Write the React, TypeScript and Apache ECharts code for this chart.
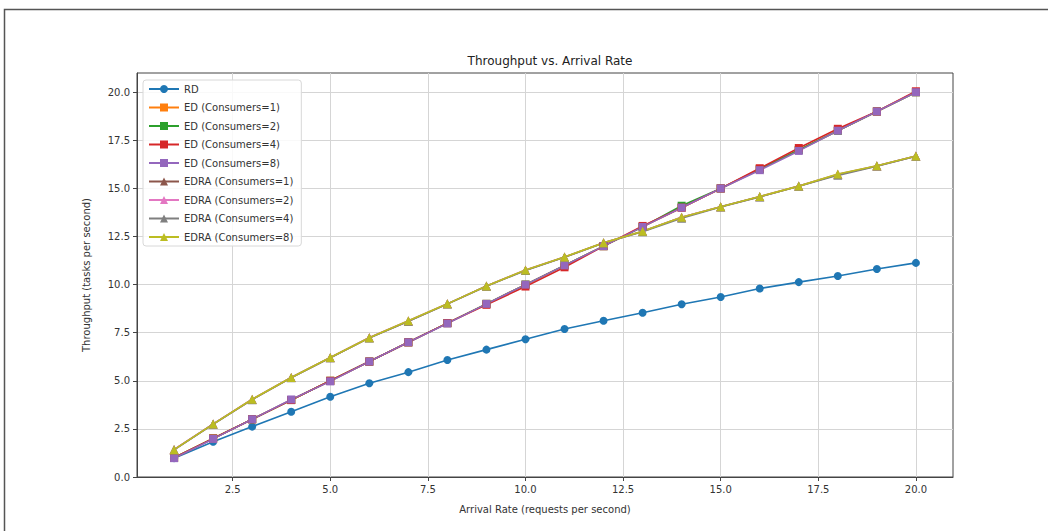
import React, { useEffect, useRef } from "react";
import * as echarts from "echarts";

const arrivalRates = [1, 2, 3, 4, 5, 6, 7, 8, 9, 10, 11, 12, 13, 14, 15, 16, 17, 18, 19, 20];

const rd = [0.98, 1.83, 2.62, 3.39, 4.17, 4.87, 5.45, 6.08, 6.62, 7.16, 7.69, 8.12, 8.54, 8.98, 9.36, 9.8, 10.13, 10.45, 10.81, 11.13];

const ed1 = [1.0, 2.0, 3.0, 4.0, 5.0, 6.0, 7.0, 8.0, 9.0, 10.0, 11.0, 12.0, 13.0, 14.0, 15.0, 16.0, 17.0, 18.0, 19.0, 20.0];
const ed2 = [1.0, 2.0, 3.0, 4.0, 5.0, 6.0, 7.0, 8.0, 9.0, 10.0, 11.0, 12.0, 13.0, 14.1, 15.0, 16.0, 17.0, 18.0, 19.0, 20.0];
const ed4 = [1.0, 2.0, 3.0, 4.0, 5.0, 6.0, 7.0, 8.0, 8.95, 9.9, 10.9, 12.0, 13.05, 14.0, 15.0, 16.05, 17.1, 18.1, 19.0, 20.05];
const ed8 = [0.98, 1.98, 3.0, 4.03, 4.97, 6.0, 7.0, 7.98, 9.0, 10.0, 11.0, 12.0, 13.0, 14.0, 15.0, 15.95, 16.95, 18.0, 19.0, 20.0];

const edra1 = [1.42, 2.75, 4.03, 5.17, 6.2, 7.24, 8.1, 9.0, 9.93, 10.75, 11.43, 12.17, 12.77, 13.5, 14.05, 14.57, 15.12, 15.72, 16.17, 16.68];
const edra2 = [1.43, 2.76, 4.04, 5.17, 6.21, 7.25, 8.12, 9.0, 9.93, 10.76, 11.43, 12.17, 12.76, 13.5, 14.05, 14.58, 15.13, 15.74, 16.18, 16.69];
const edra4 = [1.41, 2.74, 4.02, 5.16, 6.2, 7.23, 8.1, 8.99, 9.92, 10.73, 11.42, 12.16, 12.75, 13.45, 14.04, 14.56, 15.11, 15.68, 16.16, 16.67];
const edra8 = [1.42, 2.75, 4.04, 5.17, 6.21, 7.24, 8.12, 9.0, 9.93, 10.76, 11.44, 12.17, 12.77, 13.5, 14.05, 14.58, 15.12, 15.75, 16.18, 16.69];

const xTicks = [2.5, 5, 7.5, 10, 12.5, 15, 17.5, 20];
const yTicks = [0, 2.5, 5, 7.5, 10, 12.5, 15, 17.5, 20];

const seriesDefs = [
  { name: "RD", data: rd, color: "#1f77b4", symbol: "circle" },
  { name: "ED (Consumers=1)", data: ed1, color: "#ff7f0e", symbol: "rect" },
  { name: "ED (Consumers=2)", data: ed2, color: "#2ca02c", symbol: "rect" },
  { name: "ED (Consumers=4)", data: ed4, color: "#d62728", symbol: "rect" },
  { name: "ED (Consumers=8)", data: ed8, color: "#9467bd", symbol: "rect" },
  { name: "EDRA (Consumers=1)", data: edra1, color: "#8c564b", symbol: "triangle" },
  { name: "EDRA (Consumers=2)", data: edra2, color: "#e377c2", symbol: "triangle" },
  { name: "EDRA (Consumers=4)", data: edra4, color: "#7f7f7f", symbol: "triangle" },
  { name: "EDRA (Consumers=8)", data: edra8, color: "#bcbd22", symbol: "triangle" },
];

const FONT = "DejaVu Sans";

export default function App() {
  const ref = useRef<HTMLDivElement>(null);
  useEffect(() => {
    if (!ref.current) return;
    const chart = echarts.init(ref.current, null, { renderer: "svg" });
    chart.setOption({
      animation: false,
      textStyle: { fontFamily: FONT },
      graphic: [
        {
          type: "rect",
          shape: { x: 4.5, y: 9.5, width: 1100, height: 600 },
          style: { fill: "none", stroke: "#555", lineWidth: 1.5 },
          silent: true,
        },
      ],
      title: {
        text: "Throughput vs. Arrival Rate",
        left: 545,
        textAlign: "center",
        top: 50,
        textStyle: { fontFamily: FONT, fontSize: 12, fontWeight: "normal", color: "#222" },
      },
      legend: {
        orient: "vertical",
        left: 143,
        top: 80,
        padding: [4, 8, 4, 5],
        itemWidth: 30,
        itemHeight: 10,
        itemGap: 8.5,
        backgroundColor: "rgba(255,255,255,0.85)",
        borderColor: "#d8d8d8",
        borderWidth: 1,
        borderRadius: 3,
        textStyle: { fontFamily: FONT, fontSize: 10, color: "#333" },
        data: seriesDefs.map((s) => s.name),
      },
      grid: {
        left: 137,
        right: 95,
        top: 73,
        bottom: 54,
        show: true,
        borderColor: "#444",
        borderWidth: 1,
        backgroundColor: "transparent",
      },
      xAxis: {
        type: "value",
        min: 0.05,
        max: 20.95,
        name: "Arrival Rate (requests per second)",
        nameLocation: "middle",
        nameGap: 27,
        nameTextStyle: { fontFamily: FONT, fontSize: 10, color: "#333" },
        axisLine: { show: true, lineStyle: { color: "#444", width: 1 } },
        axisTick: { show: true, customValues: xTicks, length: 4, lineStyle: { color: "#444" } },
        axisLabel: {
          customValues: xTicks,
          fontFamily: FONT,
          fontSize: 10,
          color: "#333",
          margin: 7,
          formatter: (v: number) => v.toFixed(1),
        },
        splitLine: { show: true, lineStyle: { color: "#d5d5d5", width: 1 } },
      },
      yAxis: {
        type: "value",
        min: 0,
        max: 21,
        name: "Throughput (tasks per second)",
        nameLocation: "middle",
        nameGap: 46,
        nameTextStyle: { fontFamily: FONT, fontSize: 10, color: "#333" },
        axisLine: { show: true, lineStyle: { color: "#444", width: 1 } },
        axisTick: { show: true, customValues: yTicks, length: 4, lineStyle: { color: "#444" } },
        axisLabel: {
          customValues: yTicks,
          fontFamily: FONT,
          fontSize: 10,
          color: "#333",
          margin: 7,
          formatter: (v: number) => v.toFixed(1),
        },
        splitLine: { show: true, lineStyle: { color: "#d5d5d5", width: 1 } },
      },
      series: seriesDefs.map((s) => ({
        name: s.name,
        type: "line",
        data: arrivalRates.map((x, i) => [x, s.data[i]]),
        symbol: s.symbol,
        symbolSize: s.symbol === "circle" ? 8 : s.symbol === "rect" ? 8 : 9,
        showSymbol: true,
        color: s.color,
        lineStyle: { width: 1.6, color: s.color },
        itemStyle: { color: s.color },
      })),
    });
    return () => chart.dispose();
  }, []);
  return (
    <div
      ref={ref}
      style={{ position: "absolute", left: 0, top: 0, width: 1048, height: 531, background: "#fff" }}
    />
  );
}
